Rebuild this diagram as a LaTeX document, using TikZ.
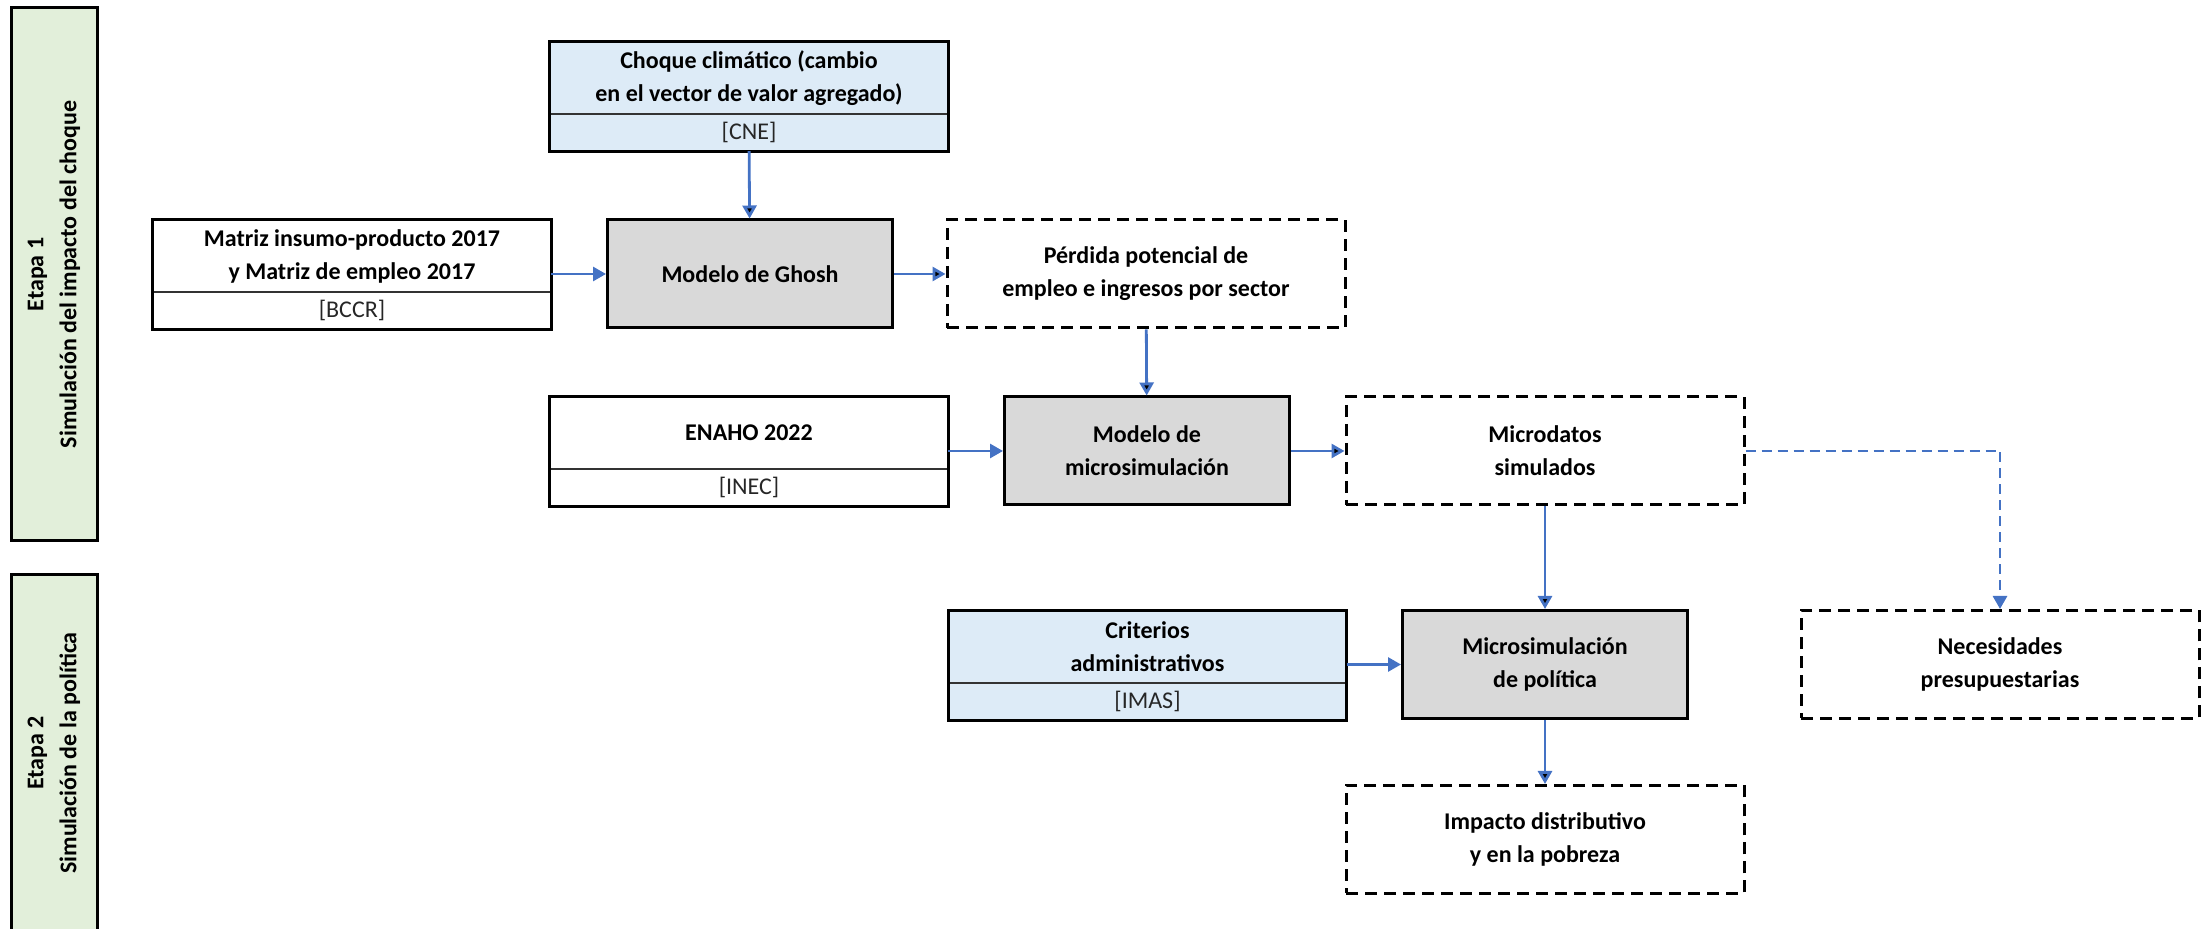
\documentclass[tikz,border=0pt]{standalone}
\usepackage{fontspec}
\setmainfont{Carlito}
\usetikzlibrary{positioning, arrows.meta}
\definecolor{flowblue}{HTML}{4472C4}
\definecolor{inputblue}{HTML}{DDEBF7}
\definecolor{modelgray}{HTML}{D9D9D9}
\definecolor{stagegreen}{HTML}{E2EFDA}
\definecolor{splitgray}{HTML}{333333}

\begin{document}
\begin{tikzpicture}[x=0.5pt,y=-0.5pt,
  font=\bfseries\fontsize{12}{16.5}\selectfont,
  stage/.style={draw,line width=1.5pt,fill=stagegreen,rotate=90,minimum height=43pt,inner sep=0pt,align=center},
  input/.style={minimum width=199pt,minimum height=36pt,inner sep=0pt,align=center},
  source/.style={minimum width=199pt,minimum height=18pt,inner sep=0pt,text=black!85,font=\mdseries\fontsize{12}{14}\selectfont},
  model/.style={draw,line width=1.5pt,fill=modelgray,minimum width=142.5pt,minimum height=54pt,align=center},
  result/.style={draw,line width=1.5pt,dash pattern=on 6pt off 3.5pt,minimum width=199pt,minimum height=54pt,align=center},
  frame/.style={line width=1.5pt},
  split/.style={draw=splitgray,line width=1pt},
  flow/.style={draw=flowblue,line width=1.4pt,-{Triangle[length=6.5pt,width=7pt]}}]
\useasboundingbox (0,0) rectangle (2208,929);

\node[stage,minimum width=266.5pt] (etapa1) at (54,274.5) {Etapa 1\\Simulación del impacto del choque};
\node[stage,minimum width=178pt] (etapa2) at (54,753) {Etapa 2\\Simulación de la política};

\node[input,fill=inputblue] (choque) at (749,78) {Choque climático (cambio\\en el vector de valor agregado)};
\node[source,fill=inputblue] (choquesrc) [below=0pt of choque] {[CNE]};
\node[input] (matriz) at (352,256) {Matriz insumo-producto 2017\\y Matriz de empleo 2017};
\node[source] (matrizsrc) [below=0pt of matriz] {[BCCR]};
\node[input] (enaho) at (749,433) {ENAHO 2022};
\node[source] (enahosrc) [below=0pt of enaho] {[INEC]};
\node[input,fill=inputblue] (criterios) at (1147.5,647) {Criterios\\administrativos};
\node[source,fill=inputblue] (criteriossrc) [below=0pt of criterios] {[IMAS]};

\foreach \n in {choque,matriz,enaho,criterios}{
  \draw[split] (\n.south west) -- (\n.south east);
  \draw[frame] (\n.north west) rectangle (\n src.south east);
}

\node[model] (ghosh) at (750,274) {Modelo de Ghosh};
\node[model] (micro) at (1147,451) {Modelo de\\microsimulación};
\node[model] (micropol) at (1545,664.5) {Microsimulación\\de política};

\node[result] (perdida) at (1146,274) {Pérdida potencial de\\empleo e ingresos por sector};
\node[result] (microdatos) at (1545,451) {Microdatos\\simulados};
\node[result] (necesidades) at (2000,664.5) {Necesidades\\presupuestarias};
\node[result] (impacto) at (1545,839.5) {Impacto distributivo\\y en la pobreza};

\path[flow]
(choquesrc) edge (ghosh)
(ghosh) edge (perdida)
(perdida) edge (micro)
(micro) edge (microdatos)
(microdatos) edge (micropol)
(micropol) edge (impacto);
\draw[flow] (matrizsrc.east |- ghosh.west) -- (ghosh.west);
\draw[flow] (enahosrc.east |- micro.west) -- (micro.west);
\draw[flow] (criteriossrc.east |- micropol.west) -- (micropol.west);
\draw[flow,dash pattern=on 5pt off 3pt] (microdatos.east) -| (necesidades.north);
\end{tikzpicture}
\end{document}
